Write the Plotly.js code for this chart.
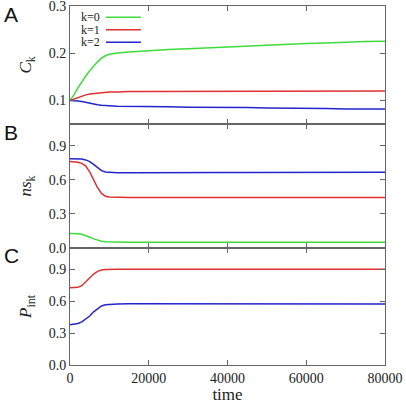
<!DOCTYPE html>
<html><head><meta charset="utf-8">
<script src="https://cdn.plot.ly/plotly-3.0.1.min.js"></script>
<style>html,body{margin:0;padding:0;background:#fff}#chart{width:406px;height:404px}</style>
</head><body><div id="chart"></div>
<script>
const time = [0,1000,2000,3000,4000,5000,6000,7000,8000,9000,10000,12000,15000,20000,25000,30000,35000,40000,45000,50000,55000,60000,65000,70000,75000,80000];
const seriesNames = ['k=0','k=1','k=2'];
const seriesColors = ['#3ddc3d','#e03030','#2424cc'];
// Panel A: C_k
const ck0 = [0.1,0.112,0.127,0.14,0.152,0.163,0.173,0.182,0.19,0.195,0.198,0.201,0.203,0.206,0.208,0.210,0.212,0.214,0.216,0.218,0.219,0.221,0.222,0.224,0.225,0.226];
const ck1 = [0.1,0.103,0.107,0.11,0.112,0.114,0.115,0.116,0.117,0.117,0.118,0.118,0.119,0.119,0.119,0.119,0.12,0.12,0.12,0.12,0.12,0.12,0.12,0.12,0.12,0.12];
const ck2 = [0.1,0.1,0.099,0.098,0.096,0.094,0.092,0.091,0.09,0.089,0.089,0.088,0.088,0.087,0.087,0.086,0.086,0.085,0.085,0.084,0.084,0.083,0.083,0.082,0.082,0.082];
// Panel B: ns_k
const ns0 = [0.127,0.127,0.125,0.12,0.11,0.095,0.08,0.068,0.06,0.055,0.053,0.052,0.051,0.05,0.05,0.05,0.05,0.05,0.05,0.05,0.05,0.05,0.05,0.05,0.05,0.05];
const ns1 = [0.76,0.76,0.755,0.745,0.72,0.67,0.6,0.53,0.48,0.455,0.448,0.445,0.445,0.445,0.445,0.445,0.445,0.445,0.445,0.445,0.445,0.445,0.445,0.445,0.445,0.445];
const ns2 = [0.785,0.785,0.784,0.782,0.775,0.76,0.735,0.705,0.68,0.668,0.665,0.663,0.663,0.662,0.663,0.663,0.664,0.664,0.665,0.665,0.665,0.665,0.666,0.666,0.666,0.666];
// Panel C: P_int
const pint1 = [0.725,0.725,0.73,0.745,0.78,0.82,0.855,0.88,0.893,0.898,0.9,0.9,0.9,0.9,0.9,0.9,0.9,0.9,0.9,0.9,0.9,0.9,0.9,0.9,0.9,0.9];
const pint2 = [0.377,0.38,0.39,0.405,0.43,0.46,0.5,0.53,0.555,0.566,0.57,0.573,0.575,0.575,0.575,0.575,0.575,0.575,0.575,0.575,0.575,0.575,0.575,0.575,0.575,0.574];
const xTicks = [0,20000,40000,60000,80000];
const panelLetters = ['A','B','C'];
const yTitles = ['<i>C</i><sub>k</sub>', '<i>ns</i><sub>k</sub>', '<i>P</i><sub>int</sub>'];

function tr(y, i, xa, ya){
  return {x: time, y: y, type:'scatter', mode:'lines', xaxis: xa, yaxis: ya,
    line:{color: seriesColors[i], width:1.5}, showlegend:false, hoverinfo:'skip'};
}
const data = [
  tr(ck0,0,'x','y'), tr(ck1,1,'x','y'), tr(ck2,2,'x','y'),
  tr(ns0,0,'x2','y2'), tr(ns1,1,'x2','y2'), tr(ns2,2,'x2','y2'),
  tr(pint1,1,'x3','y3'), tr(pint2,2,'x3','y3')
];
const serif = 'Liberation Serif';
const lc = '#666';
function xax(anchor, labels){
  return {anchor: anchor, range:[0,80000.5], tickvals: xTicks, ticktext: xTicks.map(String),
    ticks:'inside', ticklen:5, tickcolor:lc, showline:true, linecolor:lc, linewidth:1, mirror:'ticks',
    showgrid:false, zeroline:false, showticklabels: labels, ticklabeloverflow:'allow',
    tickfont:{family:serif, size:14, color:'#222'}};
}
function yax(anchor, domain, range, tv){
  return {anchor: anchor, domain: domain, range: range, tickvals: tv, ticktext: tv.map(v=>v.toFixed(1)),
    ticks:'inside', ticklen:5, tickcolor:lc, showline:true, linecolor:lc, linewidth:1, mirror:'ticks',
    showgrid:false, zeroline:false, ticklabeloverflow:'allow',
    tickfont:{family:serif, size:14, color:'#222'}};
}
const domains = [[0.671,1],[0.326,0.671],[0,0.326]];
const layout = {
  width:406, height:404, margin:{l:70, r:21, t:6, b:39},
  font:{family:serif, size:14, color:'#222'},
  paper_bgcolor:'#fff', plot_bgcolor:'#fff', showlegend:false,
  xaxis: xax('y', false), xaxis2: xax('y2', false),
  xaxis3: Object.assign(xax('y3', true), {title:{text:'time', font:{family:serif, size:17, color:'#222'}, standoff:4}}),
  yaxis: yax('x', domains[0], [0.05,0.3005], [0.1,0.2,0.3]),
  yaxis2: yax('x2', domains[1], [0,1.09], [0,0.3,0.6,0.9]),
  yaxis3: yax('x3', domains[2], [0,1.1], [0,0.3,0.6,0.9]),
  annotations: [], shapes: []
};
const letterY = [0.975, 0.649, 0.304];
panelLetters.forEach((L,i)=>{
  layout.annotations.push({text:L, xref:'paper', yref:'paper', x:-0.216, y:letterY[i],
    xanchor:'left', yanchor:'middle', showarrow:false, font:{family:'Liberation Sans', size:21, color:'#111'}});
  layout.annotations.push({text:yTitles[i], xref:'paper', yref:'paper', x:-0.135,
    y:(domains[i][0]+domains[i][1])/2, xanchor:'center', yanchor:'middle', textangle:-90,
    showarrow:false, font:{family:serif, size:17, color:'#222'}});
});
const legY = [0.969, 0.934, 0.899];
seriesNames.forEach((n,i)=>{
  layout.annotations.push({text:n, xref:'paper', yref:'paper', x:0.029, y:legY[i],
    xanchor:'left', yanchor:'middle', showarrow:false, font:{family:serif, size:12, color:'#222'}});
  layout.shapes.push({type:'line', xref:'paper', yref:'paper', x0:0.114, x1:0.225, y0:legY[i], y1:legY[i],
    line:{color:seriesColors[i], width:1.5}});
});
Plotly.newPlot('chart', data, layout, {staticPlot:true, displayModeBar:false});
</script></body></html>
